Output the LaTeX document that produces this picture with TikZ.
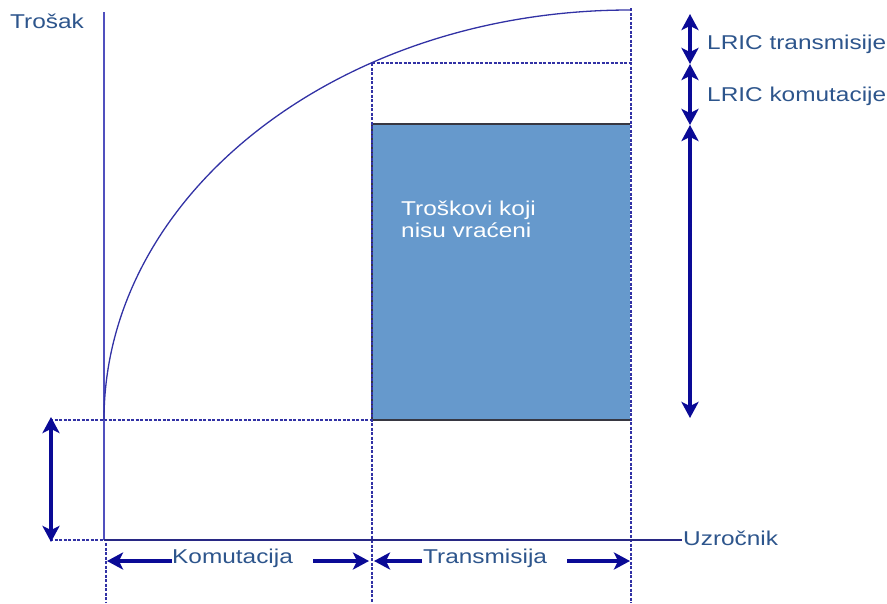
\documentclass[tikz,border=0pt]{standalone}
\usepackage{fontspec}
\setmainfont{Liberation Sans}
\usetikzlibrary{arrows.meta}
\definecolor{axiscol}{RGB}{80,80,190}
\definecolor{dashcol}{RGB}{50,50,165}
\definecolor{arrowcol}{RGB}{10,10,150}
\definecolor{textcol}{RGB}{45,85,140}
\definecolor{fillcol}{RGB}{102,153,204}
\definecolor{edgecol}{RGB}{55,55,65}
\newcommand\wtxt[1]{\scalebox{1.22}[1]{#1}}
\tikzset{
  lbl/.style={inner sep=0pt, anchor=base west, text=textcol, font=\fontsize{20}{22}\selectfont},
  guide/.style={draw=dashcol, line width=1.3pt, dash pattern=on 3pt off 1.5pt},
  dbl/.style={draw=arrowcol, line width=3.8pt, {Stealth[length=16pt,width=17pt,inset=4pt]}-{Stealth[length=16pt,width=17pt,inset=4pt]}},
  sgl/.style={draw=arrowcol, line width=3.8pt, -{Stealth[length=16pt,width=17pt,inset=4pt]}},
}
\begin{document}
\begin{tikzpicture}[x=1pt,y=-1pt]
\useasboundingbox (0,0) rectangle (887,603);
% coordinates
\coordinate (axtop) at (104,12);
\coordinate (orig) at (104,540);
\coordinate (axend) at (682,540);
\coordinate (c0) at (104,420);
\coordinate (ctop) at (630,10);
\coordinate (cmid) at (372,63);
% blue box
\fill[fillcol] (372,124) rectangle (630,420);
\draw[edgecol, line width=1.3pt] (630,124) -- (372,124) -- (372,420) -- (630,420);
% guides
\draw[guide] (50,420) -- (372,420);
\draw[guide] (50,540) -- (104,540);
\draw[guide] (cmid) -- (631,63);
\draw[guide] (cmid) -- (372,603);
\draw[guide] (631,8) -- (631,603);
\draw[guide] (106,543) -- (106,603);
% axes
\draw[axiscol, line width=2.5pt] (axtop) -- (orig);
\draw[dashcol!80!black, line width=1.2pt] (orig) -- (axend);
% curve
\draw[dashcol, line width=1.3pt] (c0) arc[start angle=180, end angle=90, x radius=526pt, y radius=410pt];
% labels
\node[lbl] (trosak) at (10,28) {\wtxt{Trošak}};
\node[lbl] (uzr) at (683,545) {\wtxt{Uzročnik}};
\node[lbl] (lt) at (707,49) {\wtxt{LRIC transmisije}};
\node[lbl] (lk) at (707,101) {\wtxt{LRIC komutacije}};
\node[lbl, text=white] (tk1) at (401,215) {\wtxt{Troškovi koji}};
\node[lbl, text=white] (tk2) at (401,237) {\wtxt{nisu vraćeni}};
\node[lbl] (kom) at (172,563) {\wtxt{Komutacija}};
\node[lbl] (tra) at (423,563) {\wtxt{Transmisija}};
% right arrows
\coordinate (r1) at (690,14);
\coordinate (r2) at (690,64);
\coordinate (r3) at (690,125);
\coordinate (r4) at (690,418);
\draw[dbl] (r1) -- (r2);
\draw[dbl] (r2) -- (r3);
\draw[dbl] (r3) -- (r4);
% left arrow
\coordinate (l1) at (51,417);
\coordinate (l2) at (51,542);
\draw[dbl] (l1) -- (l2);
% bottom arrows
\coordinate (k1) at (172,561);
\coordinate (k0) at (107,561);
\coordinate (k2) at (313,561);
\coordinate (k3) at (369,561);
\coordinate (t1) at (422,561);
\coordinate (t0) at (374,561);
\coordinate (t2) at (567,561);
\coordinate (t3) at (630,561);
\draw[sgl] (k1) -- (k0);
\draw[sgl] (k2) -- (k3);
\draw[sgl] (t1) -- (t0);
\draw[sgl] (t2) -- (t3);
\end{tikzpicture}
\end{document}
